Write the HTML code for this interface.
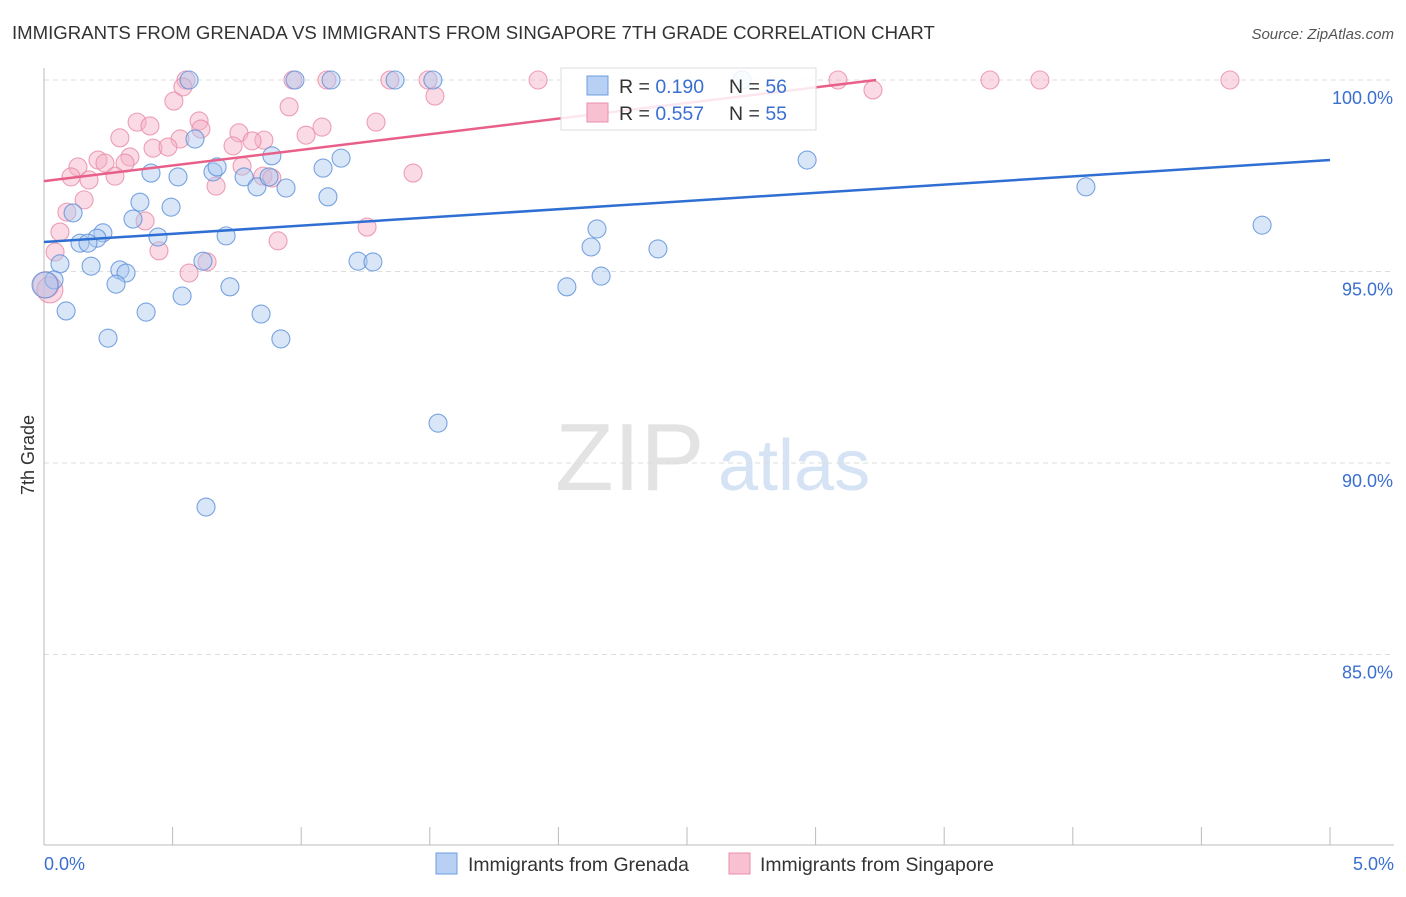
<!DOCTYPE html>
<html><head><meta charset="utf-8"><style>
body{margin:0;background:#fff;font-family:"Liberation Sans",sans-serif;}
svg text{font-family:"Liberation Sans",sans-serif;}
</style></head><body>
<svg width="1406" height="892" id="chart">
<text x="12" y="39" font-size="18.6" fill="#333">IMMIGRANTS FROM GRENADA VS IMMIGRANTS FROM SINGAPORE 7TH GRADE CORRELATION CHART</text>
<text x="1394" y="39" font-size="15" fill="#555" text-anchor="end" font-style="italic">Source: ZipAtlas.com</text>
<text x="34" y="455" font-size="18" fill="#333" text-anchor="middle" transform="rotate(-90 34 455)">7th Grade</text>
<text x="555" y="490" font-size="96" fill="#e3e3e3" font-family="Liberation Serif">ZIP</text>
<text x="718" y="490" font-size="72" fill="#d5e3f5">atlas</text>
<g id="grid"></g>
<g id="marks"></g>
<g>
<rect x="561" y="68" width="255" height="62" fill="#fff" fill-opacity="0.85" stroke="#ddd"/>
<rect x="587" y="76" width="21" height="19" fill="#b7d0f4" stroke="#6c9de0"/>
<rect x="587" y="103" width="21" height="19" fill="#f8c0d0" stroke="#e98fab"/>
<text x="619" y="93" font-size="19.5" fill="#333">R = <tspan fill="#3a6fd0">0.190</tspan></text>
<text x="729" y="93" font-size="19.5" fill="#333">N = <tspan fill="#3a6fd0">56</tspan></text>
<text x="619" y="120" font-size="19.5" fill="#333">R = <tspan fill="#3a6fd0">0.557</tspan></text>
<text x="729" y="120" font-size="19.5" fill="#333">N = <tspan fill="#3a6fd0">55</tspan></text>
</g>
<g>
<rect x="436" y="853" width="21" height="21" fill="#b7d0f4" stroke="#6c9de0"/>
<text x="468" y="871" font-size="19.4" fill="#333">Immigrants from Grenada</text>
<rect x="729" y="853" width="21" height="21" fill="#f8c0d0" stroke="#e98fab"/>
<text x="760" y="871" font-size="19.4" fill="#333">Immigrants from Singapore</text>
</g>
</svg>
<script>
const xTicks=[0,0.5,1,1.5,2,2.5,3,3.5,4,4.5,5];
const yTicks=[100,95,90,85];
const yTickLabels=["100.0%","95.0%","90.0%","85.0%"];
const xEndLabels=["0.0%","5.0%"];
const grenadaX=[0.564,0.976,1.116,1.365,1.512,2.714,0.587,0.886,1.155,1.085,2.967,0.416,0.521,0.657,0.673,0.778,0.828,0.941,0.875,1.104,0.373,0.494,0.346,0.113,4.051,4.736,0.229,0.206,0.140,0.171,0.443,0.708,2.150,2.127,2.387,0.062,0.183,0.295,0.319,0.618,1.221,1.279,2.166,0.039,0.280,0.537,0.723,2.033,0.004,0.086,0.397,0.844,0.249,0.921,1.532,0.630];
const grenadaY=[100,100,100,100,100,100,98.46,98.02,97.96,97.70,97.91,97.57,97.47,97.60,97.73,97.47,97.21,97.18,97.47,96.95,96.81,96.68,96.37,96.53,97.21,96.21,96.01,95.87,95.74,95.74,95.90,95.93,96.11,95.64,95.59,95.20,95.14,95.04,94.96,95.27,95.27,95.25,94.88,94.78,94.67,94.36,94.60,94.60,94.65,93.97,93.94,93.89,93.26,93.24,91.04,88.85];
const singX=[0.552,0.968,1.100,1.345,1.493,1.921,3.087,3.678,3.872,4.611,3.223,0.505,0.540,1.520,0.953,0.362,0.412,0.603,0.610,1.081,1.291,0.295,0.529,0.758,1.019,0.424,0.735,0.855,0.809,0.334,0.210,0.237,0.315,0.482,1.435,0.132,0.175,0.105,0.276,0.669,0.770,0.851,0.886,0.156,0.089,0.393,1.256,0.062,0.910,0.447,0.043,0.564,0.634,0.008,0.023];
const singY=[100,100,100,100,100,100,100,100,100,100,99.74,99.45,99.82,99.58,99.30,98.90,98.80,98.93,98.72,98.77,98.90,98.49,98.46,98.62,98.56,98.22,98.28,98.43,98.41,97.99,97.91,97.83,97.83,98.25,97.57,97.73,97.39,97.47,97.49,97.23,97.75,97.49,97.44,96.87,96.55,96.32,96.16,96.03,95.80,95.54,95.51,94.96,95.25,94.65,94.52];
const grenadaTrend=[[0,95.77],[5,97.91]];
const singTrend=[[0,97.36],[3.235,100]];
const NS="http://www.w3.org/2000/svg";
const X=v=>44+v/5*1286;
const Y=v=>80+(100-v)/5*191.5;
function mk(t,a,p){const e=document.createElementNS(NS,t);for(const k in a)e.setAttribute(k,a[k]);p.appendChild(e);return e;}
const grid=document.getElementById('grid'),marks=document.getElementById('marks');
yTicks.forEach((t,i)=>{
 const l=mk('line',{x1:44,x2:1394,y1:Y(t),y2:Y(t),stroke:'#ddd','stroke-dasharray':'5,4'},grid);
 
 
 const tx=mk('text',{x:1393,y:Y(t)+24,'font-size':18,fill:'#3a6fd0','text-anchor':'end'},grid);
 tx.textContent=yTickLabels[i];
 
 
});
const ax=mk('line',{x1:44,x2:44,y1:68,y2:845,stroke:'#bbb'},grid);


const bx=mk('line',{x1:44,x2:1394,y1:845,y2:845,stroke:'#bbb'},grid);


xTicks.forEach(t=>{
 const l=mk('line',{x1:X(t),x2:X(t),y1:827,y2:845,stroke:'#bbb'},grid);
 
 
});
[[0,'start',44],[1,'end',1394]].forEach(([i,a,x])=>{
 const t=mk('text',{x:x,y:870,'font-size':18,fill:'#3a6fd0','text-anchor':a},grid);
 t.textContent=xEndLabels[i];
 
 
});
function pts(xs,ys,fill,stroke,name){
 xs.forEach((x,i)=>{
  const big=x<0.03;
  const c=mk('circle',{cx:X(x),cy:Y(ys[i]),r:big?13:9,fill:fill,'fill-opacity':0.45,stroke:stroke,'stroke-opacity':0.8,'stroke-width':1.1},marks);
  
  
 });
}
pts(singX,singY,'#f5b0c5','#e88aa5','singapore-point');
pts(grenadaX,grenadaY,'#a9c8f0','#5b8fd9','grenada-point');
const t1=mk('line',{x1:X(grenadaTrend[0][0]),y1:Y(grenadaTrend[0][1]),x2:X(grenadaTrend[1][0]),y2:Y(grenadaTrend[1][1]),stroke:'#2f6fd3','stroke-width':2.5},marks);


const t2=mk('line',{x1:X(singTrend[0][0]),y1:Y(singTrend[0][1]),x2:X(singTrend[1][0]),y2:Y(singTrend[1][1]),stroke:'#e8608a','stroke-width':2.5},marks);


</script>
</body></html>
